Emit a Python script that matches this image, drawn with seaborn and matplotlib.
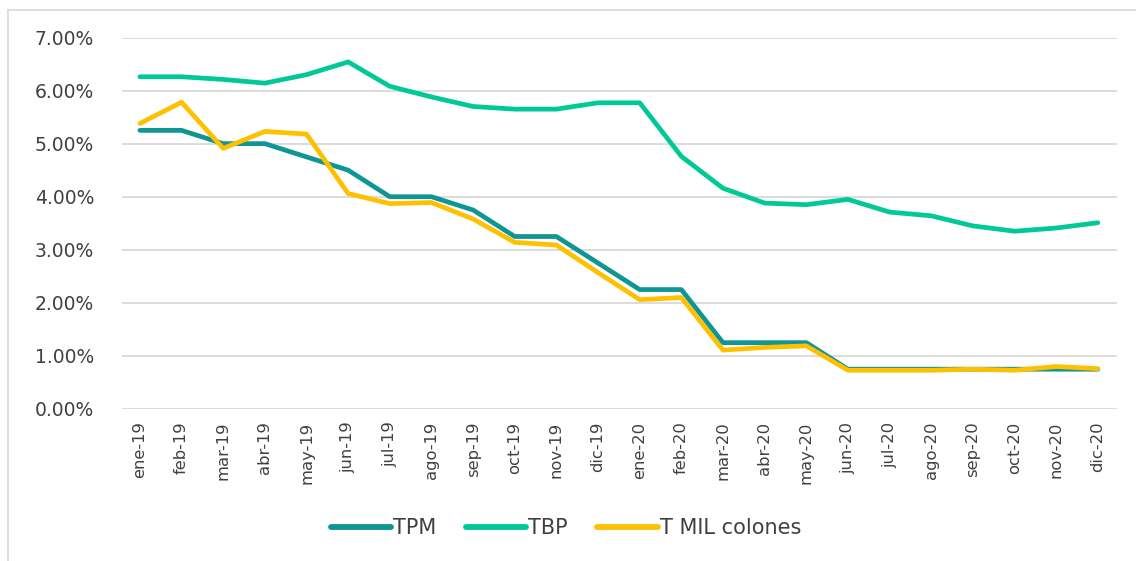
import pandas as pd
import matplotlib
matplotlib.use("Agg")
import matplotlib.pyplot as plt
from matplotlib.lines import Line2D
from matplotlib.ticker import FuncFormatter
import seaborn as sns

# months shown on the x axis
months = ["ene-19", "feb-19", "mar-19", "abr-19", "may-19", "jun-19", "jul-19", "ago-19",
          "sep-19", "oct-19", "nov-19", "dic-19", "ene-20", "feb-20", "mar-20", "abr-20",
          "may-20", "jun-20", "jul-20", "ago-20", "sep-20", "oct-20", "nov-20", "dic-20"]

# rates in percent
tpm = [5.25, 5.25, 5.00, 5.00, 4.75, 4.50, 4.00, 4.00, 3.75, 3.25, 3.25, 2.75,
       2.25, 2.25, 1.25, 1.25, 1.25, 0.75, 0.75, 0.75, 0.75, 0.75, 0.75, 0.75]
tbp = [6.26, 6.26, 6.21, 6.14, 6.30, 6.54, 6.08, 5.88, 5.70, 5.65, 5.65, 5.77,
       5.77, 4.76, 4.16, 3.88, 3.85, 3.95, 3.71, 3.64, 3.45, 3.35, 3.41, 3.51]
tmil = [5.38, 5.78, 4.91, 5.23, 5.18, 4.06, 3.87, 3.89, 3.58, 3.14, 3.09, 2.57,
        2.06, 2.10, 1.11, 1.16, 1.19, 0.73, 0.73, 0.73, 0.75, 0.73, 0.80, 0.76]

series_names = ["TPM", "TBP", "T MIL colones"]
colors = ["#0E9594", "#00C997", "#FFC000"]

# long table for seaborn
df = pd.DataFrame({
    "pos": list(range(len(months))) * 3,
    "valor": tpm + tbp + tmil,
    "serie": [s for s in series_names for _ in months],
})

sns.set_style("white")
plt.rcParams["font.family"] = ["DejaVu Sans"]

fig = plt.figure(figsize=(11.36, 5.61), dpi=100)
ax = fig.add_axes([122 / 1136, 1 - 409 / 561, 995 / 1136, (409 - 37.5) / 561])

sns.lineplot(data=df, x="pos", y="valor", hue="serie", hue_order=series_names,
             palette=colors, linewidth=3.4, sort=False, legend=False, ax=ax)

ax.set_xlim(-0.43, 23.46)
ax.set_ylim(0, 7)
ax.set_yticks(range(0, 8))
ax.yaxis.set_major_formatter(FuncFormatter(lambda v, p: "%.2f%%" % v))
ax.set_xticks(range(len(months)))
ax.set_xticklabels(months, rotation=90)
ax.tick_params(axis="both", length=0, labelcolor="#404040")
ax.tick_params(axis="y", pad=20, labelsize=13.5)
ax.tick_params(axis="x", pad=9, labelsize=11.8)
ax.grid(axis="y", color="#d9d9d9", linewidth=1.3)
ax.set_axisbelow(True)
ax.set_xlabel("")
ax.set_ylabel("")
sns.despine(ax=ax, left=True, bottom=True)

# legend under the labels
handles = [Line2D([0], [0], color=c, linewidth=4.2, solid_capstyle="round") for c in colors]
fig.legend(handles, series_names, loc="center", bbox_to_anchor=(566 / 1136, 1 - 528 / 561),
           ncol=3, frameon=False, fontsize=15, handlelength=2.9, handletextpad=0.1,
           columnspacing=1.4, labelcolor="#404040")

# outer chart frame (partly cut off in the reference)
fig.add_artist(Line2D([8 / 1136, 1], [1 - 10 / 561, 1 - 10 / 561], color="#d9d9d9", linewidth=1.2))
fig.add_artist(Line2D([8 / 1136, 8 / 1136], [0, 1 - 10 / 561], color="#d9d9d9", linewidth=1.2))

fig.savefig("out.png", dpi=100)
